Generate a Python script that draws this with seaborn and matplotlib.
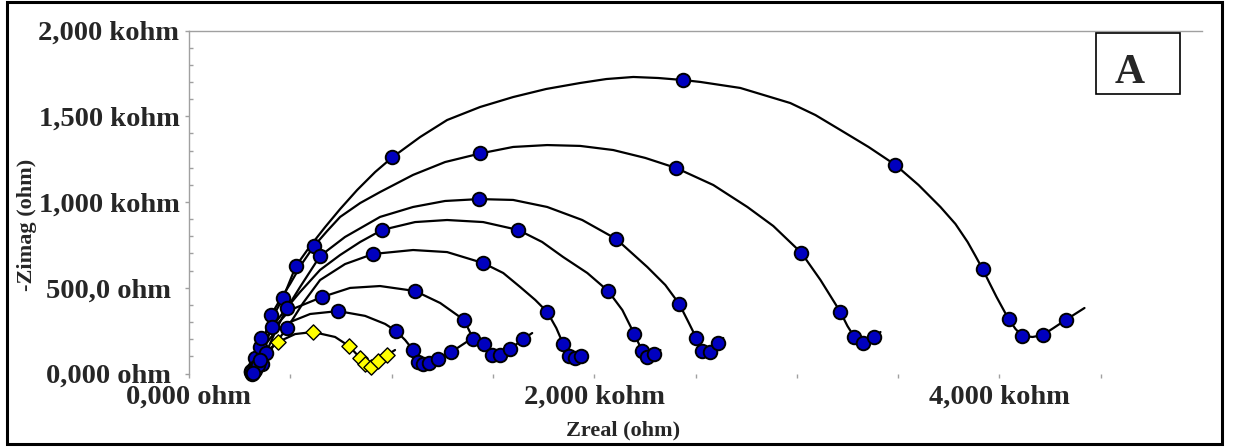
import numpy as np
import matplotlib
matplotlib.use("Agg")
import matplotlib.pyplot as plt
import seaborn as sns
from matplotlib.patches import Rectangle
from matplotlib.ticker import MultipleLocator

# ---------------- data (kohm) ----------------
# Series 1 (largest arc): fitted curve and measured points
s1_fit_x = [311, 331, 361, 400, 464, 528, 598, 672, 746, 830, 919, 1003, 1141, 1274, 1437, 1600,
            1763, 1931, 2060, 2193, 2316, 2440, 2524, 2721, 2968, 3092, 3215, 3354, 3487, 3601,
            3709, 3783, 3843, 3882, 3917, 3951, 3986, 4045, 4080, 4114, 4164, 4213, 4267, 4327, 4420]
s1_fit_y = [3, 79, 184, 300, 440, 627, 743, 854, 959, 1070, 1175, 1260, 1379, 1478, 1554, 1612,
            1659, 1694, 1717, 1729, 1723, 1711, 1700, 1665, 1577, 1507, 1420, 1321, 1216, 1099,
            971, 872, 767, 685, 609, 528, 446, 318, 259, 219, 213, 224, 265, 312, 382]
s1_mark_x = [306, 316, 326, 464, 528, 1003, 2440, 3487, 3917, 4045, 4114, 4213, 4327]
s1_mark_y = [15, 9, 90, 440, 627, 1260, 1711, 1216, 609, 318, 219, 224, 312]

# Series 2
s2_fit_x = [311, 341, 375, 405, 449, 499, 553, 617, 682, 746, 845, 943, 1106, 1264, 1437, 1600,
            1768, 1931, 2094, 2252, 2405, 2588, 2756, 2884, 3023, 3117, 3166, 3215, 3250, 3284,
            3329, 3383, 3413]
s2_fit_y = [3, 108, 224, 341, 429, 522, 633, 743, 831, 913, 994, 1058, 1158, 1233, 1283, 1321,
            1332, 1327, 1303, 1257, 1198, 1099, 971, 860, 703, 545, 452, 359, 277, 213,
            178, 213, 242]
s2_mark_x = [311, 321, 351, 405, 617, 1437, 2405, 3023, 3215, 3284, 3329, 3383]
s2_mark_y = [3, 30, 155, 341, 743, 1283, 1198, 703, 359, 213, 178, 213]

# Series 3
s3_fit_x = [311, 341, 380, 430, 484, 548, 647, 770, 943, 1106, 1264, 1432, 1600, 1768, 1941,
            2109, 2262, 2351, 2420, 2465, 2504, 2534, 2573, 2613, 2637]
s3_fit_y = [3, 79, 120, 254, 382, 504, 685, 796, 913, 971, 1006, 1017, 1012, 971, 895,
            784, 621, 516, 405, 300, 207, 131, 125, 178, 207]
s3_mark_x = [316, 321, 380, 484, 647, 1432, 2109, 2420, 2504, 2534, 2573, 2613]
s3_mark_y = [20, 15, 120, 382, 685, 1017, 784, 405, 207, 131, 125, 178]

# Series 4
s4_fit_x = [311, 356, 410, 474, 548, 647, 746, 845, 953, 1116, 1274, 1452, 1625, 1743, 1847,
            1966, 2069, 2139, 2198, 2237, 2262, 2297, 2327]
s4_fit_y = [3, 207, 271, 370, 475, 604, 691, 767, 837, 883, 895, 883, 837, 767, 679,
            586, 481, 370, 230, 131, 96, 114, 137]
s4_mark_x = [306, 356, 410, 953, 1625, 2069, 2198, 2237, 2262, 2297]
s4_mark_y = [9, 207, 271, 837, 837, 481, 230, 131, 96, 114]

# Series 5
s5_fit_x = [311, 361, 410, 484, 563, 647, 770, 909, 1106, 1274, 1452, 1551, 1635, 1709, 1768,
            1813, 1847, 1877, 1906, 1936, 1961]
s5_fit_y = [3, 55, 149, 265, 411, 545, 638, 697, 720, 708, 644, 586, 504, 429, 359,
            265, 172, 102, 90, 102, 125]
s5_mark_x = [326, 361, 484, 909, 1452, 1768, 1847, 1877, 1906, 1936]
s5_mark_y = [20, 55, 265, 697, 644, 359, 172, 102, 90, 102]

# Series 6
s6_fit_x = [311, 341, 400, 499, 657, 795, 943, 1116, 1240, 1358, 1403, 1457, 1497, 1536, 1585,
            1650, 1694]
s6_fit_y = [3, 50, 242, 370, 446, 499, 510, 481, 411, 312, 201, 172, 108, 108, 143,
            201, 236]
s6_mark_x = [311, 341, 657, 1116, 1358, 1403, 1457, 1497, 1536, 1585, 1650]
s6_mark_y = [0, 50, 446, 481, 312, 201, 172, 108, 108, 143, 201]

# Series 7
s7_fit_x = [311, 351, 375, 425, 499, 598, 736, 869, 968, 1022, 1067, 1106, 1131, 1156, 1185,
            1230, 1294, 1378]
s7_fit_y = [3, 79, 166, 242, 300, 347, 364, 336, 289, 248, 195, 137, 67, 55, 61,
            85, 125, 190]
s7_mark_x = [316, 351, 736, 1022, 1106, 1131, 1156, 1185, 1230, 1294]
s7_mark_y = [3, 79, 364, 248, 137, 67, 55, 61, 85, 125]

# Yellow diamond series
s8_fit_x = [311, 361, 440, 524, 612, 721, 790, 845, 869, 899, 933, 978, 1017]
s8_fit_y = [3, 108, 184, 230, 242, 213, 160, 90, 55, 38, 73, 108, 137]
s8_mark_x = [440, 612, 790, 845, 869, 899, 933, 978]
s8_mark_y = [184, 242, 160, 90, 55, 38, 73, 108]

x_tick_values = [0, 500, 1000, 1500, 2000, 2500, 3000, 3500, 4000, 4500]
x_tick_labels = ["0,000 ohm", "", "", "", "2,000 kohm", "", "", "", "4,000 kohm", ""]
y_tick_values = [0, 500, 1000, 1500, 2000]
y_tick_labels = ["0,000 ohm", "500,0 ohm", "1,000 kohm", "1,500 kohm", "2,000 kohm"]

# ---------------- styling ----------------
sns.set_style("white")
plt.rcParams['font.family'] = ['Liberation Serif', 'DejaVu Serif']
plt.rcParams['font.weight'] = 'bold'

BLUE = '#0000BF'
YELLOW = '#FFFF00'
GRAY = '#A0A0A0'

W, H = 1237, 448
fig = plt.figure(figsize=(W / 100, H / 100), dpi=100)
ax = fig.add_axes([189 / W, 74.5 / H, (1202 - 189) / W, (373.5 - 30.5) / H])

blue_series = [
    (s1_fit_x, s1_fit_y, s1_mark_x, s1_mark_y),
    (s2_fit_x, s2_fit_y, s2_mark_x, s2_mark_y),
    (s3_fit_x, s3_fit_y, s3_mark_x, s3_mark_y),
    (s4_fit_x, s4_fit_y, s4_mark_x, s4_mark_y),
    (s5_fit_x, s5_fit_y, s5_mark_x, s5_mark_y),
    (s6_fit_x, s6_fit_y, s6_mark_x, s6_mark_y),
    (s7_fit_x, s7_fit_y, s7_mark_x, s7_mark_y),
]

for fx, fy, _, _ in blue_series + [(s8_fit_x, s8_fit_y, None, None)]:
    sns.lineplot(x=fx, y=fy, sort=False, estimator=None, color='black',
                 linewidth=1.6, ax=ax, legend=False, zorder=2)

for _, _, mx, my in blue_series:
    sns.scatterplot(x=mx, y=my, marker='o', s=95, color=BLUE, edgecolor='black',
                    linewidth=1.4, ax=ax, legend=False, zorder=3, clip_on=False)

sns.scatterplot(x=s8_mark_x, y=s8_mark_y, marker='D', s=60, color=YELLOW, edgecolor='black',
                linewidth=1.0, ax=ax, legend=False, zorder=4, clip_on=False)

ax.set_xlim(0, 5000)
ax.set_ylim(0, 2000)
ax.set_xticks(x_tick_values)
ax.set_xticklabels(x_tick_labels)
ax.set_yticks(y_tick_values)
ax.set_yticklabels(y_tick_labels)
ax.yaxis.set_minor_locator(MultipleLocator(100))

ax.tick_params(axis='x', which='major', direction='out', length=3, width=1, color=GRAY,
               pad=5, labelsize=20.5, bottom=True)
ax.tick_params(axis='y', which='major', direction='out', length=3, width=1, color=GRAY,
               pad=54.6, labelsize=20.5, left=True)
ax.tick_params(axis='y', which='minor', direction='in', length=3, width=1, color=GRAY, left=True)
for lab in ax.get_yticklabels():
    lab.set_horizontalalignment('center')

for side in ['right', 'bottom']:
    ax.spines[side].set_visible(False)
for side in ['top', 'left']:
    ax.spines[side].set_color(GRAY)
    ax.spines[side].set_linewidth(1)

ax.set_xlabel('')
ax.set_ylabel('')
fig.text(623 / W, 1 - 430 / H, 'Zreal (ohm)', ha='center', va='center', fontsize=16, fontweight='bold')
fig.text(27 / W, 1 - 225 / H, '-Zimag (ohm)', ha='center', va='center', rotation=90,
         fontsize=16, fontweight='bold')

# label box "A"
fig.patches.append(Rectangle((1096 / W, 1 - 94 / H), 84 / W, 61 / H, transform=fig.transFigure,
                             fill=False, edgecolor='black', linewidth=1.2))
fig.text(1130 / W, 1 - 83 / H, 'A', ha='center', va='baseline', fontsize=30, fontweight='bold')

# outer frame
fig.patches.append(Rectangle((7 / W, 4 / H), 1215 / W, 442 / H, transform=fig.transFigure,
                             fill=False, edgecolor='black', linewidth=2.2))

fig.savefig('out.png', dpi=100)
